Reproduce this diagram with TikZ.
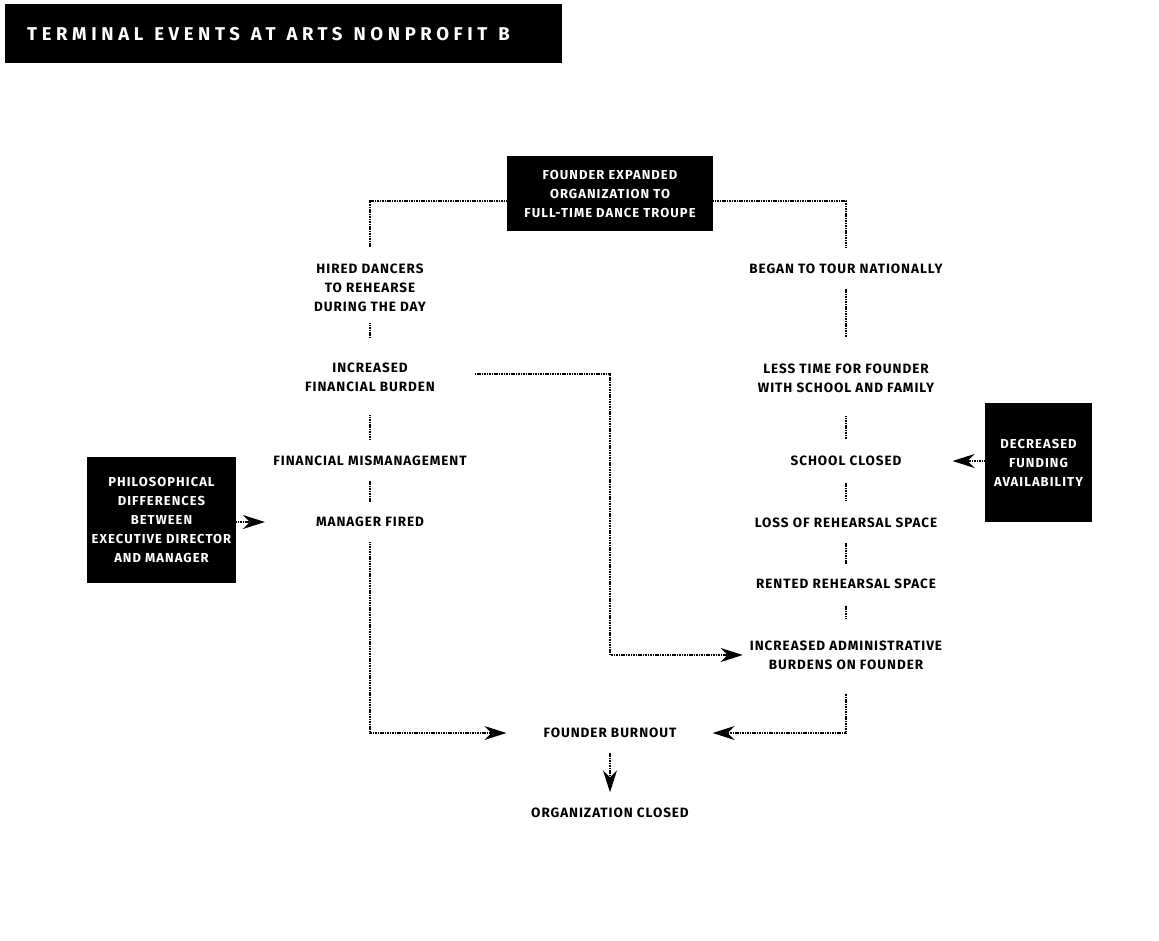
\documentclass[tikz,border=0pt]{standalone}
\usepackage{fontspec}
\setmainfont{Fira Sans}
\newfontfamily\labelfont{Fira Sans}[LetterSpace=7]
\newfontfamily\boxfont{Fira Sans}[LetterSpace=8]
\newfontfamily\titlefont{Fira Sans}[LetterSpace=25]
\usetikzlibrary{arrows.meta,calc}
\newcommand{\tsp}{\hspace{11pt}}
\tikzset{
  lbl/.style={font=\labelfont\bfseries\fontsize{13.5}{19}\selectfont, align=center, inner sep=0pt},
  blk/.style={fill=black, text=white, font=\boxfont\bfseries\fontsize{13}{19}\selectfont, align=center, inner sep=0pt},
  conn/.style={line width=1.3pt, dash pattern=on 1.1pt off 0.6pt},
  arr/.style={conn, -{Stealth[length=22pt,width=14pt,inset=7pt]}}
}
\begin{document}
\begin{tikzpicture}[x=1pt,y=-1pt]
\useasboundingbox (0,0) rectangle (1159,940);
\fill[white] (0,0) rectangle (1159,940);

% title
\node[fill=black, text=white, anchor=north west, minimum width=557pt, minimum height=59pt,
      text width=513pt, inner xsep=22pt, inner ysep=0pt, align=left,
      font=\titlefont\bfseries\fontsize{18.5}{21}\selectfont] (title) at (5,4)
      {TERMINAL\tsp EVENTS\tsp AT\tsp ARTS\tsp NONPROFIT\tsp B};

% black boxes
\node[blk, minimum width=206pt, minimum height=75pt] (F) at (610,193.5)
  {FOUNDER EXPANDED\\ORGANIZATION TO\\FULL-TIME DANCE TROUPE};
\node[blk, minimum width=149pt, minimum height=126pt] (P) at (161.5,520)
  {PHILOSOPHICAL\\DIFFERENCES\\BETWEEN\\EXECUTIVE DIRECTOR\\AND MANAGER};
\node[blk, minimum width=107pt, minimum height=119pt] (D) at (1038.5,462.5)
  {DECREASED\\FUNDING\\AVAILABILITY};

% left column
\node[lbl] (H)   at (370,287.5) {HIRED DANCERS\\TO REHEARSE\\DURING THE DAY};
\node[lbl] (IFB) at (370,377)   {INCREASED\\FINANCIAL BURDEN};
\node[lbl] (FM)  at (370,461)   {FINANCIAL MISMANAGEMENT};
\node[lbl] (MF)  at (370,522)   {MANAGER FIRED};

% right column
\node[lbl] (BT)  at (846,269)   {BEGAN TO TOUR NATIONALLY};
\node[lbl] (LT)  at (846,378)   {LESS TIME FOR FOUNDER\\WITH SCHOOL AND FAMILY};
\node[lbl] (SC)  at (846,461)   {SCHOOL CLOSED};
\node[lbl] (LR)  at (846,523)   {LOSS OF REHEARSAL SPACE};
\node[lbl] (RR)  at (846,584)   {RENTED REHEARSAL SPACE};
\node[lbl] (IAB) at (846,655)   {INCREASED ADMINISTRATIVE\\BURDENS ON FOUNDER};

% bottom
\node[lbl] (FB)  at (610,733)   {FOUNDER BURNOUT};
\node[lbl] (OC)  at (610,813)   {ORGANIZATION CLOSED};

% connectors from top box
\draw[conn] ([yshift=-7.5pt]F.west) -| ([yshift=16pt]H.north);
\draw[conn] ([yshift=-7.5pt]F.east) -| ([yshift=16pt]BT.north);

% left column chain
\draw[conn, shorten <=11.6pt, shorten >=24.6pt] (H) -- (IFB);
\draw[conn, shorten <=23.6pt, shorten >=16.6pt] (IFB) -- (FM);
\draw[conn, shorten <=14.6pt, shorten >=15.6pt] (FM) -- (MF);
\draw[arr] ([yshift=-15pt]MF.south) |- ([xshift=-37pt]FB.west);

% increased financial burden -> administrative burdens
\draw[arr] ([xshift=40pt,yshift=3pt]IFB.east) -| (FB.center |- IAB.west) -- ([xshift=-7pt]IAB.west);

% philosophical differences -> manager fired
\draw[arr] (P.east |- MF.west) -- ([xshift=-51pt]MF.west);

% right column chain
\draw[conn, shorten <=14.6pt, shorten >=26.6pt] (BT) -- (LT);
\draw[conn, shorten <=23.6pt, shorten >=16.6pt] (LT) -- (SC);
\draw[conn, shorten <=16.6pt, shorten >=16.6pt] (SC) -- (LR);
\draw[conn, shorten <=14.6pt, shorten >=15.6pt] (LR) -- (RR);
\draw[conn, shorten <=16.6pt, shorten >=21.6pt] (RR) -- (IAB);
\draw[arr] ([yshift=-24pt]IAB.south) |- ([xshift=36pt]FB.east);

% decreased funding -> school closed
\draw[arr] (D.west |- SC.east) -- ([xshift=51pt]SC.east);

% burnout -> closed
\draw[arr, shorten <=14.6pt, shorten >=15.6pt] (FB) -- (OC);
\end{tikzpicture}
\end{document}
